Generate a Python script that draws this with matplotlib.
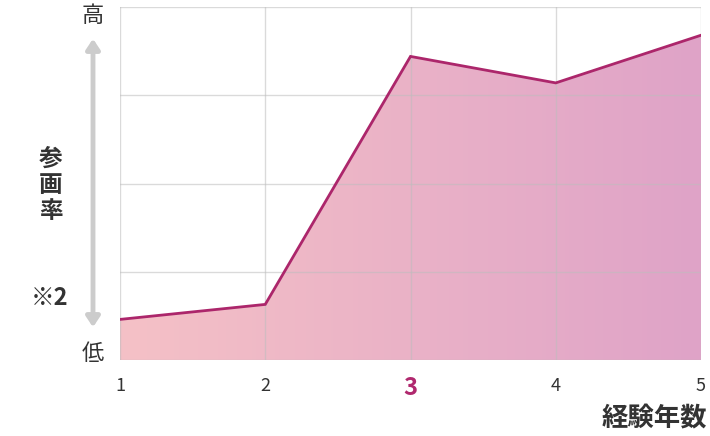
import matplotlib
matplotlib.use("Agg")
import matplotlib.pyplot as plt
import numpy as np
from matplotlib.colors import LinearSegmentedColormap
from matplotlib.patches import FancyArrowPatch

plt.rcParams['font.family'] = ['Noto Sans CJK JP', 'DejaVu Sans']

years = [1, 2, 3, 4, 5]
rate = [0.46, 0.63, 3.44, 3.14, 3.68]
tick_labels = ['1', '2', '3', '4', '5']
highlight = '3'

W, H = 710, 436
fig = plt.figure(figsize=(W/100, H/100), dpi=100)
ax = fig.add_axes([120/W, 1-360/H, (701-120)/W, (360-7)/H])
ax.set_xlim(1, 5)
ax.set_ylim(0, 4)

# gradient fill
poly = ax.fill_between(years, rate, 0, color='none', lw=0)
cmap = LinearSegmentedColormap.from_list('g', ['#f5c1c6', '#dfa3c8'])
grad = np.linspace(0, 1, 256).reshape(1, -1)
im = ax.imshow(grad, extent=[1, 5, 0, 4], aspect='auto', cmap=cmap,
               origin='lower', zorder=1)
path = poly.get_paths()[0]
im.set_clip_path(path, transform=ax.transData)

ax.plot(years, rate, color='#ac266b', lw=2.0, zorder=3, solid_joinstyle='miter')

ax.set_xticks(years)
ax.set_yticks([0, 1, 2, 3, 4])
ax.grid(True, color='#bdbdbd', alpha=0.55, lw=1.0, zorder=2)
ax.set_axisbelow(False)
for s in ax.spines.values():
    s.set_visible(False)
ax.tick_params(length=0, labelleft=False, labelbottom=False)

for x, lab in zip(years, tick_labels):
    if lab == highlight:
        ax.text(x, -0.32, lab, ha='center', va='center', fontsize=17,
                fontweight='bold', color='#b0286e')
    else:
        ax.text(x, -0.3, lab, ha='center', va='center', fontsize=13,
                color='#333333')

fig.text(707/W, 1-419/H, '経験年数', ha='right', va='center', fontsize=19,
         fontweight='bold', color='#333333')

fig.text(93/W, 1-15/H, '高', ha='center', va='center', fontsize=16, color='#333333')
fig.text(93/W, 1-353/H, '低', ha='center', va='center', fontsize=16, color='#333333')
fig.text(51/W, 1-185/H, '参\n画\n率', ha='center', va='center', fontsize=17,
         color='#333333', linespacing=1.12, fontweight='bold')
fig.text(50/W, 1-298/H, '※2', ha='center', va='center', fontsize=17,
         color='#333333', fontweight='bold')

arrow = FancyArrowPatch((93/W, 1-36/H), (93/W, 1-330/H), transform=fig.transFigure,
                        arrowstyle='<|-|>,head_length=6,head_width=4',
                        color='#cccccc', lw=3.5, mutation_scale=1)
fig.patches.append(arrow)

fig.savefig('out.png', dpi=100)
